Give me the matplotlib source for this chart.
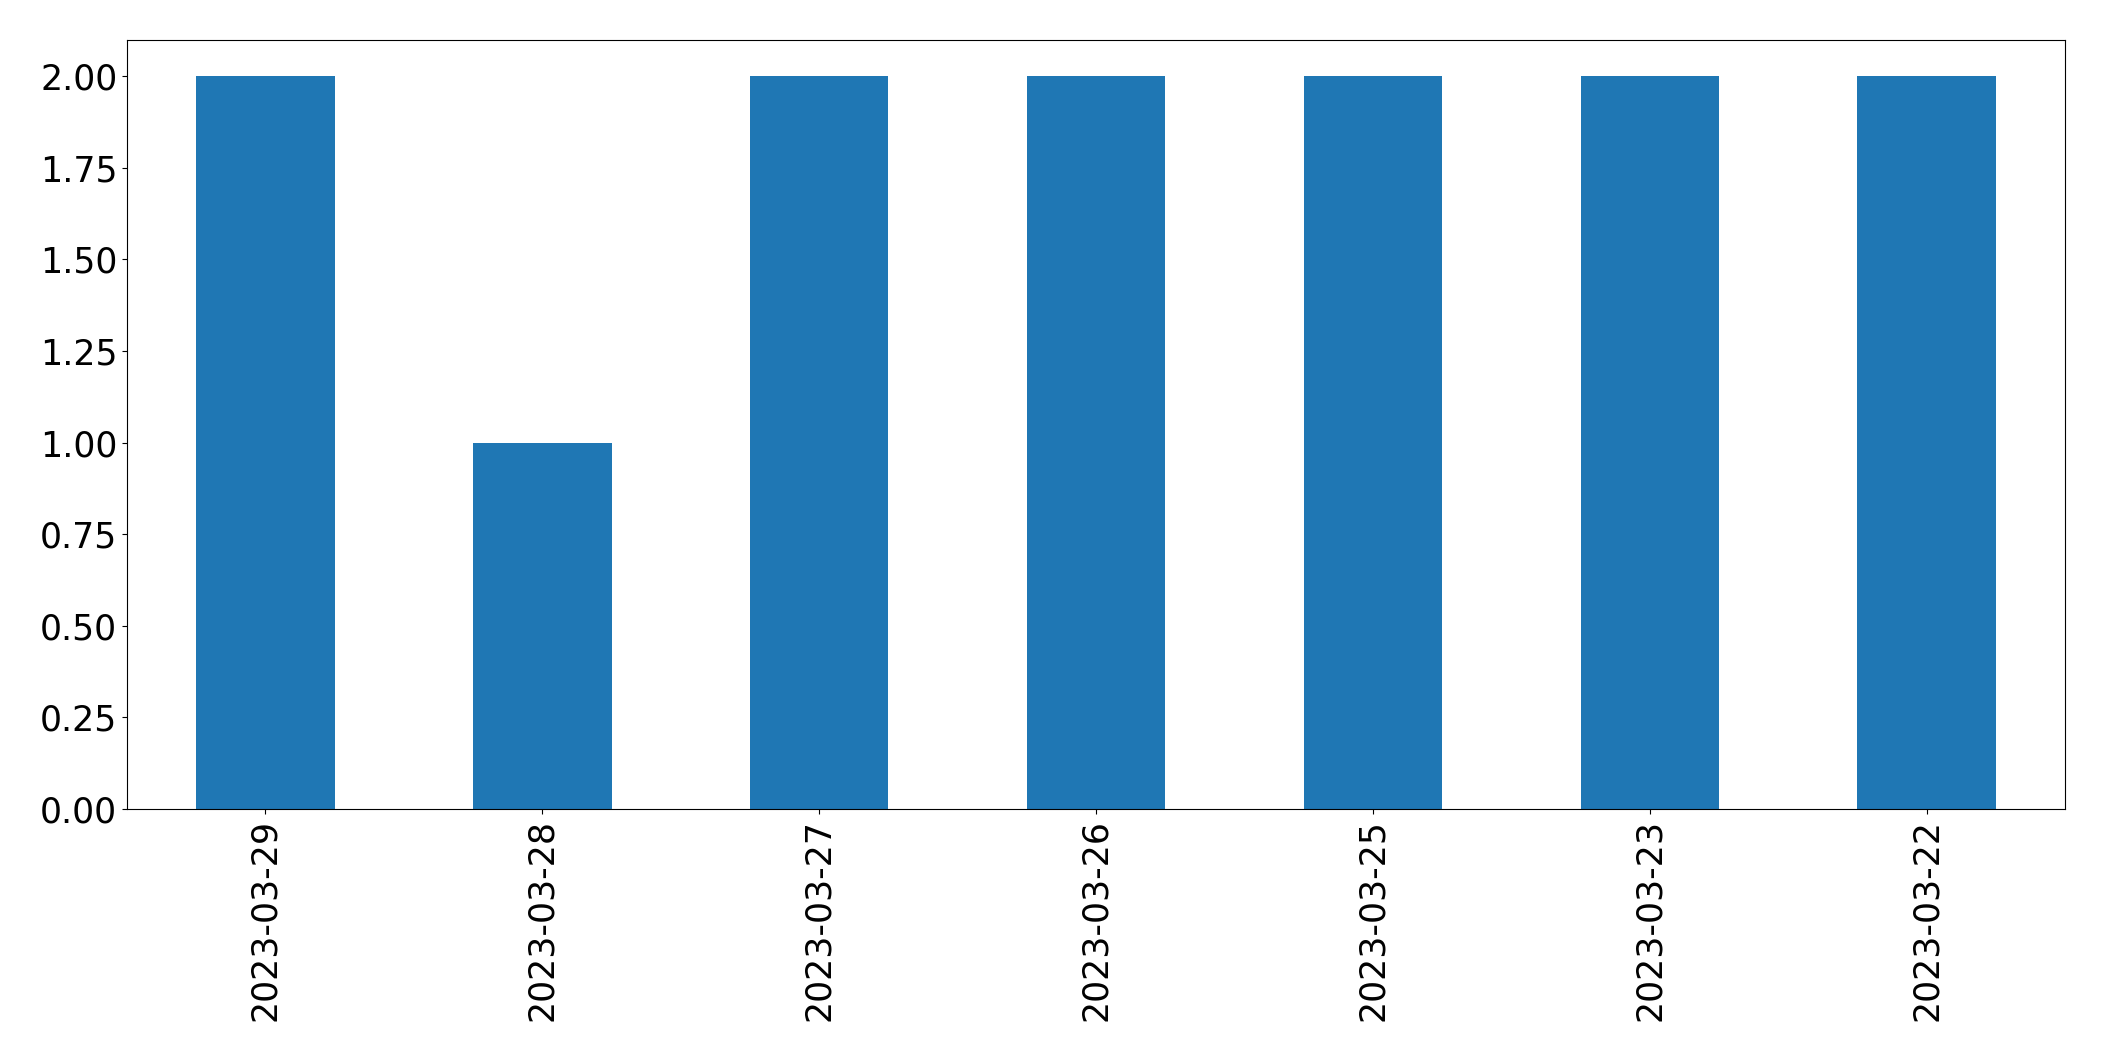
import matplotlib
matplotlib.use("Agg")
import matplotlib.pyplot as plt
import numpy as np

dates = ["2023-03-29", "2023-03-28", "2023-03-27", "2023-03-26",
         "2023-03-25", "2023-03-23", "2023-03-22"]
counts = [2, 1, 2, 2, 2, 2, 2]

fig = plt.figure(figsize=(21.04, 10.61), dpi=100)
ax = fig.add_axes([127/2104, 1 - 809/1061, (2065-127)/2104, (809-39.5)/1061])
x = np.arange(len(dates))
ax.bar(x, counts, width=0.5, color="#1f77b4")
ax.set_xlim(-0.5, len(dates) - 0.5)
ax.set_ylim(0, 2.1)
ax.set_yticks(np.arange(0, 2.01, 0.25))
ax.set_yticklabels([f"{v:.2f}" for v in np.arange(0, 2.01, 0.25)])
ax.set_xticks(x)
ax.set_xticklabels(dates, rotation=90)
ax.tick_params(labelsize=25)
fig.savefig("out.png", dpi=100)
